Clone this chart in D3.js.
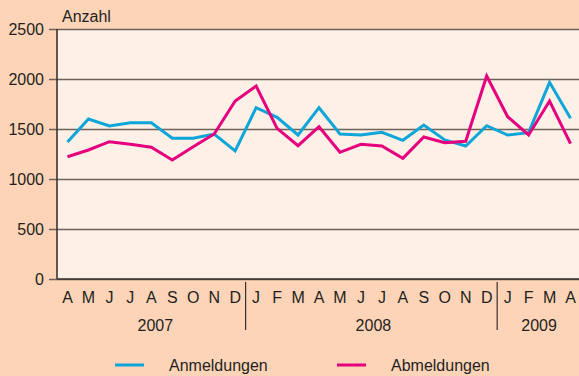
<!DOCTYPE html>
<html>
<head>
<meta charset="utf-8">
<script src="https://cdn.jsdelivr.net/npm/d3@7"></script>
<style>
  html, body { margin: 0; padding: 0; background: #fdd4b7; }
  svg { display: block; font-family: "Liberation Sans", Arial, sans-serif; }
</style>
</head>
<body>
<svg id="chart" width="579" height="376"></svg>
<script>
// Monthly registrations and deregistrations, April 2007 – April 2009
const months = ["A","M","J","J","A","S","O","N","D",
                "J","F","M","A","M","J","J","A","S","O","N","D",
                "J","F","M","A"];
const years = [
  { label: "2007", from: 0, to: 8 },
  { label: "2008", from: 9, to: 20 },
  { label: "2009", from: 21, to: 24 }
];
const anmeldungen = [1370, 1600, 1530, 1563, 1563, 1407, 1407, 1450, 1280,
                     1713, 1617, 1440, 1713, 1450, 1440, 1467, 1387, 1540, 1390, 1330, 1533,
                     1440, 1463, 1967, 1607];
const abmeldungen = [1223, 1290, 1373, 1347, 1317, 1190, 1323, 1450, 1780,
                     1930, 1507, 1333, 1523, 1267, 1347, 1330, 1207, 1420, 1363, 1377, 2030,
                     1623, 1440, 1780, 1353];
const yTicks = [0, 500, 1000, 1500, 2000, 2500];
const seriesNames = ["Anmeldungen", "Abmeldungen"];
const colors = ["#0ea5d8", "#e6007e"];

const fontSize = 16;
const textColor = "#231f20";

const svg = d3.select("#chart");
const plotLeft = 57, plotRight = 581, plotTop = 29, plotBottom = 279;

const x = d3.scaleBand().domain(d3.range(months.length)).range([plotLeft, plotRight]).padding(0);
const y = d3.scaleLinear().domain([0, 2500]).range([plotBottom, plotTop]);
const cx = i => x(i) + x.bandwidth() / 2;

// plot background
svg.append("rect")
  .attr("x", plotLeft).attr("y", plotTop)
  .attr("width", plotRight - plotLeft).attr("height", plotBottom - plotTop)
  .attr("fill", "#fdf0e6");

// horizontal gridlines with short ticks on the left
const yAxis = d3.axisLeft(y).tickValues(yTicks).tickFormat(d3.format("d"))
  .tickSize(-(plotRight - plotLeft));
const gy = svg.append("g").attr("transform", `translate(${plotLeft},0)`).call(yAxis);
gy.select(".domain").remove();
gy.selectAll(".tick line").attr("stroke", "#6e625a").attr("stroke-width", 1.3).attr("x1", -8);
gy.selectAll(".tick text").attr("fill", textColor).attr("font-size", fontSize)
  .attr("x", -13).attr("dy", "0.35em");

// left axis line and baseline
svg.append("line").attr("x1", plotLeft).attr("x2", plotLeft).attr("y1", plotTop).attr("y2", plotBottom)
  .attr("stroke", "#3b3330").attr("stroke-width", 1.6);
svg.append("line").attr("x1", plotLeft).attr("x2", plotRight).attr("y1", plotBottom).attr("y2", plotBottom)
  .attr("stroke", "#3b3330").attr("stroke-width", 1.6);

// axis title
svg.append("text").attr("x", 62).attr("y", 22).attr("font-size", fontSize).attr("fill", textColor).text("Anzahl");

// month labels
const xAxis = d3.axisBottom(x).tickFormat(i => months[i]).tickSize(0);
const gx = svg.append("g").attr("transform", `translate(0,${plotBottom})`).call(xAxis);
gx.select(".domain").remove();
gx.selectAll(".tick text").attr("fill", textColor).attr("font-size", fontSize)
  .attr("y", 24).attr("dy", 0);

// year labels (nudged slightly right within the wider year groups) and separators
const yearNudge = [4, 2, 0];
years.forEach((yr, k) => {
  const mid = (cx(yr.from) + cx(yr.to)) / 2 + yearNudge[k];
  svg.append("text").attr("x", mid).attr("y", 331).attr("text-anchor", "middle")
    .attr("font-size", fontSize).attr("fill", textColor).text(yr.label);
  if (k > 0) {
    const sx = x(yr.from);
    svg.append("line").attr("x1", sx).attr("x2", sx).attr("y1", 282).attr("y2", 330)
      .attr("stroke", textColor).attr("stroke-width", 1.1);
  }
});

// series lines
const line = d3.line().x((d, i) => cx(i)).y(d => y(d));
[anmeldungen, abmeldungen].forEach((vals, k) => {
  svg.append("path").datum(vals)
    .attr("d", line)
    .attr("fill", "none")
    .attr("stroke", colors[k])
    .attr("stroke-width", 3)
    .attr("stroke-linejoin", "miter");
});

// legend
const legendPos = [{ lx: 115, tx: 169 }, { lx: 337, tx: 391 }];
seriesNames.forEach((name, k) => {
  const p = legendPos[k];
  svg.append("line").attr("x1", p.lx).attr("x2", p.lx + 29).attr("y1", 365).attr("y2", 365)
    .attr("stroke", colors[k]).attr("stroke-width", 3);
  svg.append("text").attr("x", p.tx).attr("y", 370.5).attr("font-size", fontSize)
    .attr("fill", textColor).text(name);
});
</script>
</body>
</html>
